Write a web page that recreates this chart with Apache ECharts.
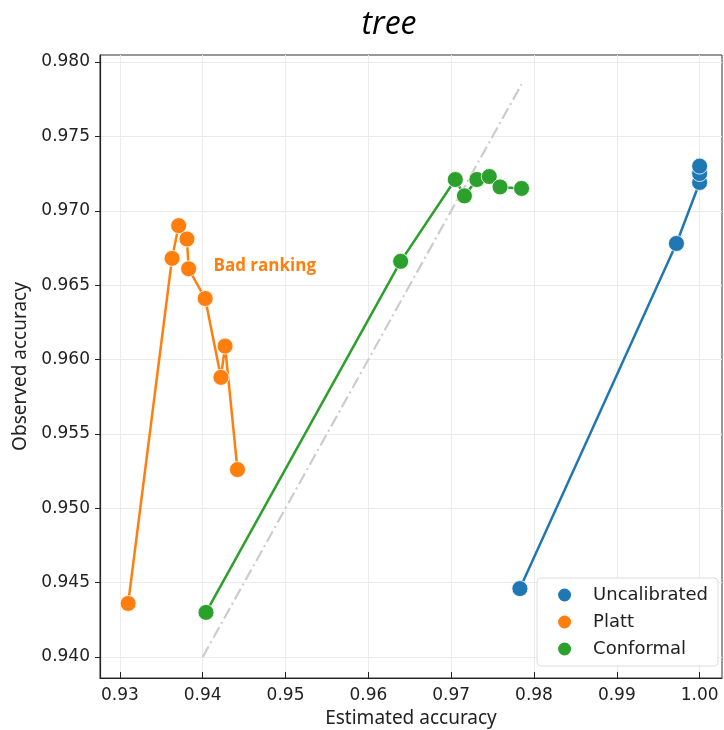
<!DOCTYPE html>
<html><head><meta charset="utf-8">
<script src="https://cdn.jsdelivr.net/npm/echarts@6/dist/echarts.min.js"></script>
<style>html,body{margin:0;padding:0;background:#fff}#c{width:724px;height:730px}</style>
</head><body><div id="c"></div>
<script>
const uncalibrated = [[0.9783,0.9446],[0.9972,0.9678],[1.0000,0.9719],[1.0000,0.9725],[1.0000,0.9730]];
const platt = [[0.9310,0.9436],[0.9363,0.9668],[0.9371,0.9690],[0.9381,0.9681],[0.9383,0.9661],[0.9403,0.9641],[0.9422,0.9588],[0.9427,0.9609],[0.9442,0.9526]];
const conformal = [[0.9404,0.9430],[0.9639,0.9666],[0.9705,0.9721],[0.9716,0.9710],[0.9731,0.9721],[0.9746,0.9723],[0.9759,0.9716],[0.9785,0.9715]];
const diagonal = [[0.940,0.940],[0.9785,0.9785]];
const xTicks = [0.93,0.94,0.95,0.96,0.97,0.98,0.99,1.00];
const yTicks = [0.940,0.945,0.950,0.955,0.960,0.965,0.970,0.975,0.980];
const seriesNames = ['Uncalibrated','Platt','Conformal'];
const colors = ['#1f77b4','#ff7f0e','#2ca02c'];
const annotation = {text:'Bad ranking', x:0.9413, y:0.9663};

const chart = echarts.init(document.getElementById('c'));
const mk = (name, data, color) => ({
  name, type:'line', data, symbol:'circle', symbolSize:16, color,
  lineStyle:{width:2.5,color}, itemStyle:{color, borderColor:'#fff', borderWidth:0.8},
  emphasis:{disabled:true}, z:3
});
chart.setOption({
  animation:false,
  title:{text:'tree', left:384, top:4, textAlign:'center',
    textStyle:{fontFamily:'Open Sans', fontStyle:'italic', fontWeight:'normal', fontSize:32, color:'#000'}},
  grid:{left:100, right:2, top:55, bottom:52, show:true, borderColor:'#333', borderWidth:1,
    containLabel:false, outerBoundsMode:'none'},
  legend:{data:seriesNames.map((n,i)=>({name:n, icon:'circle', itemStyle:{color:colors[i]}})),
    orient:'vertical', right:6, top:578, itemWidth:15, itemHeight:15, itemGap:9,
    padding:[8,10,8,19], backgroundColor:'#fff', borderColor:'#ddd', borderWidth:1, borderRadius:4,
    textStyle:{fontFamily:'DejaVu Sans', fontSize:18, color:'#222', padding:[0,0,0,16]}},
  xAxis:{type:'value', min:0.9276, max:1.0027,
    name:'Estimated accuracy', nameLocation:'middle', nameGap:28,
    nameTextStyle:{fontFamily:'Noto Sans', fontSize:19, color:'#222'},
    axisLine:{show:true, lineStyle:{color:'#222', width:1.2}},
    axisTick:{show:true, inside:true, length:6, customValues:xTicks, lineStyle:{color:'#222'}},
    axisLabel:{customValues:xTicks, formatter:v=>v.toFixed(2), fontFamily:'DejaVu Sans', fontSize:17, color:'#222', margin:9},
    splitLine:{show:true, lineStyle:{color:'#ebebeb', width:1}}},
  yAxis:{type:'value', min:0.93859, max:0.98047,
    name:'Observed accuracy', nameLocation:'middle', nameGap:70,
    nameTextStyle:{fontFamily:'Noto Sans', fontSize:19, color:'#222'},
    axisLine:{show:true, lineStyle:{color:'#222', width:1.2}},
    axisTick:{show:true, inside:false, length:5, customValues:yTicks, lineStyle:{color:'#222'}},
    axisLabel:{customValues:yTicks, formatter:v=>v.toFixed(3), fontFamily:'DejaVu Sans', fontSize:17, color:'#222', margin:10},
    splitLine:{show:true, lineStyle:{color:'#ebebeb', width:1}}},
  series:[
    {name:'diag', type:'line', data:diagonal, symbol:'none', silent:true, z:1,
      lineStyle:{color:'#cccccc', width:2.2, type:[12,4,2,4]}},
    mk(seriesNames[0], uncalibrated, colors[0]),
    mk(seriesNames[1], platt, colors[1]),
    mk(seriesNames[2], conformal, colors[2]),
    {name:'ann', type:'line', data:[[annotation.x, annotation.y]], symbol:'circle', symbolSize:0, silent:true,
      itemStyle:{opacity:1}, lineStyle:{opacity:0}, z:5,
      label:{show:true, position:'right', distance:0, formatter:annotation.text, opacity:1,
        fontFamily:'Open Sans', fontWeight:'bold', fontSize:17, color:'#ff7f0e'}}
  ]
});
</script></body></html>
